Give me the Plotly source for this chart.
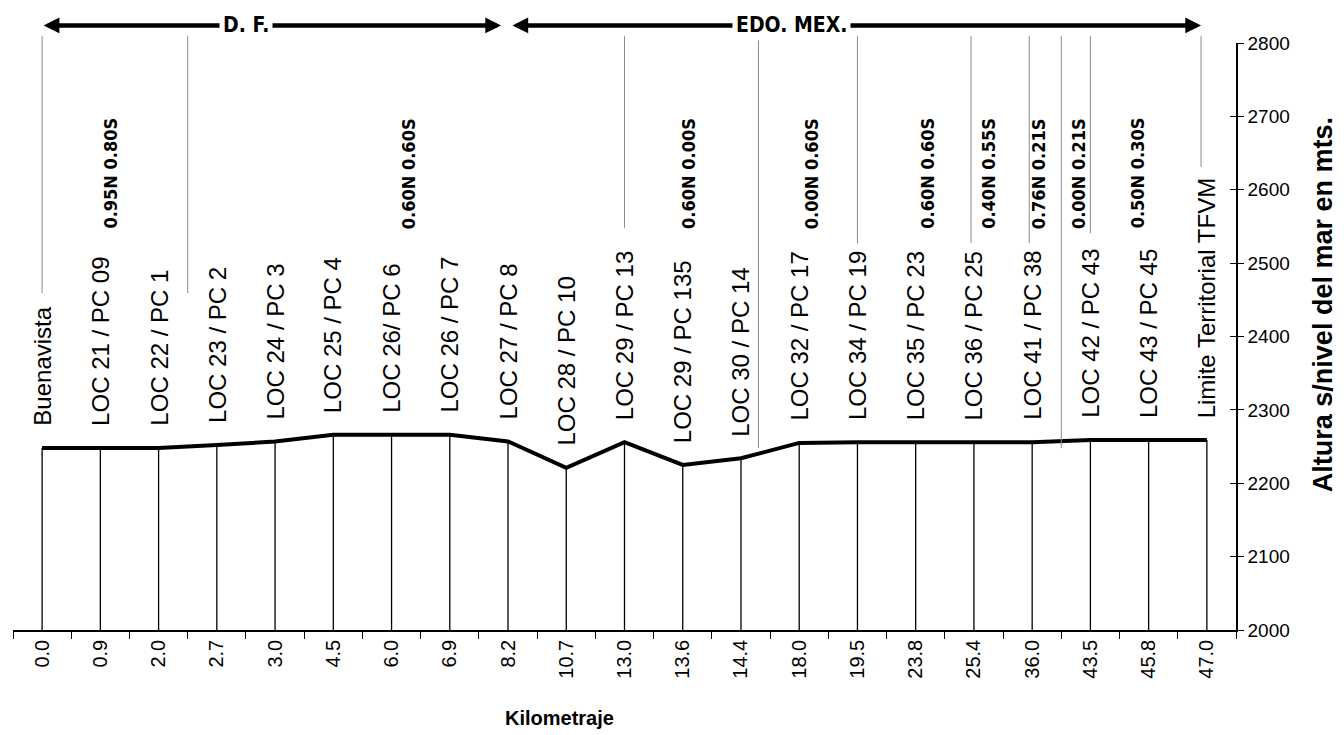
import plotly.graph_objects as go

# ---------------- data ----------------
km_labels = ["0.0", "0.9", "2.0", "2.7", "3.0", "4.5", "6.0", "6.9", "8.2", "10.7", "13.0",
             "13.6", "14.4", "18.0", "19.5", "23.8", "25.4", "36.0", "43.5", "45.8", "47.0"]
place_names = ["Buenavista", "LOC 21 / PC 09", "LOC 22 / PC 1", "LOC 23 / PC 2", "LOC 24 / PC 3",
               "LOC 25 / PC 4", "LOC 26/ PC 6", "LOC 26 / PC 7", "LOC 27 / PC 8", "LOC 28 / PC 10",
               "LOC 29 / PC 13", "LOC 29 / PC 135", "LOC 30 / PC 14", "LOC 32 / PC 17",
               "LOC 34 / PC 19", "LOC 35 / PC 23", "LOC 36 / PC 25", "LOC 41 / PC 38",
               "LOC 42 / PC 43", "LOC 43 / PC 45", "Limite Territorial TFVM"]
altitude = [2248, 2248, 2248, 2252, 2257, 2266, 2266, 2266, 2257, 2221, 2256,
            2225, 2234, 2255, 2256, 2256, 2256, 2256, 2259, 2259, 2259]
offset_labels = ["0.95N 0.80S", "0.60N 0.60S", "0.60N 0.00S", "0.00N 0.60S", "0.60N 0.60S",
                 "0.40N 0.55S", "0.76N 0.21S", "0.00N 0.21S", "0.50N 0.30S"]
offset_label_pos = [1.17, 6.28, 11.1, 13.2, 15.2, 16.25, 17.1, 17.8, 18.8]
y_base = 2000
y_ticks = list(range(2000, 2801, 100))

# leader lines (category position, bottom in paper coords)
leader_x = [0, 2.5, 10, 12.3, 14, 15.95, 16.95, 17.5, 18.0, 19.9]
leader_bottom = [0.574, 0.574, 0.685, 0.31, 0.659, 0.659, 0.659, 0.31, 0.676, 0.789]

FONT = "Liberation Sans, Arial, sans-serif"
NARROW = "Liberation Sans Narrow, Arial Narrow, DejaVu Sans Condensed, sans-serif"

fig = go.Figure()

fig.add_trace(go.Scatter(
    x=km_labels, y=altitude, mode="lines",
    line=dict(color="black", width=4),
    error_y=dict(type="data", symmetric=False, array=[0] * len(altitude),
                 arrayminus=[a - y_base for a in altitude],
                 color="black", thickness=1.3, width=0),
    hoverinfo="skip", showlegend=False,
))
fig.add_trace(go.Scatter(x=[km_labels[0]], y=[y_base], yaxis="y2", mode="markers",
                         marker=dict(opacity=0), showlegend=False, hoverinfo="skip"))

annotations = []
for i, (name, alt) in enumerate(zip(place_names, altitude)):
    annotations.append(dict(x=i, y=alt, xref="x", yref="y", text=name, textangle=-90,
                            showarrow=False, xanchor="center", yanchor="bottom", yshift=20,
                            font=dict(family=FONT, size=24, color="black")))
for txt, pos in zip(offset_labels, offset_label_pos):
    annotations.append(dict(x=pos, y=0.68, xref="x", yref="paper", text="<b>" + txt + "</b>",
                            textangle=-90, showarrow=False, xanchor="center", yanchor="bottom",
                            font=dict(family=NARROW, size=18, color="black")))

arrow_y = 1.03
for x0, x1 in [(0, 7.88), (8.05, 19.9)]:
    annotations.append(dict(x=x1, y=arrow_y, xref="x", yref="paper", ax=x0, ay=0,
                            axref="x", ayref="pixel", text="", showarrow=True,
                            arrowhead=2, arrowside="end+start", arrowsize=0.7,
                            arrowwidth=4.5, arrowcolor="black"))
for txt, pos in [("D. F.", 3.5), ("EDO. MEX.", 12.86)]:
    annotations.append(dict(x=pos, y=arrow_y, xref="x", yref="paper", text="<b>" + txt + "</b>",
                            showarrow=False, bgcolor="white", borderpad=3,
                            xanchor="center", yanchor="middle",
                            font=dict(family=NARROW, size=21, color="black")))
# axis titles
annotations.append(dict(x=0.447, y=-0.15, xref="paper", yref="paper", text="<b>Kilometraje</b>",
                        showarrow=False, xanchor="center", yanchor="middle",
                        font=dict(family=FONT, size=20, color="black")))
annotations.append(dict(x=1.0711, y=0.555, xref="paper", yref="paper",
                        text="<b>Altura s/nivel del mar en mts.</b>", textangle=-90,
                        showarrow=False, xanchor="center", yanchor="middle",
                        font=dict(family=FONT, size=27, color="black")))

shapes = []
for lx, lb in zip(leader_x, leader_bottom):
    shapes.append(dict(type="line", xref="x", yref="paper", x0=lx, x1=lx, y0=lb, y1=1.012,
                       line=dict(color="#8a8a8a", width=1)))

fig.update_layout(
    width=1344, height=735,
    margin=dict(l=13, r=108, t=43, b=105),
    paper_bgcolor="white", plot_bgcolor="white",
    annotations=annotations, shapes=shapes,
    xaxis=dict(type="category", tickangle=-90, tickson="boundaries", ticks="outside",
               ticklen=7, tickcolor="black", showline=True, linecolor="black", linewidth=1.5,
               showgrid=False, tickfont=dict(family=FONT, size=20, color="black"),
               range=[-0.5, 20.5]),
    yaxis=dict(side="right", range=[2000, 2800], tickvals=y_ticks, ticks="outside", ticklen=6,
               tickcolor="black", showline=True, linecolor="black", linewidth=1.5,
               showgrid=False, zeroline=False,
               tickfont=dict(family=FONT, size=19, color="black")),
    yaxis2=dict(overlaying="y", side="right", range=[2000, 2800], tickvals=y_ticks,
                ticks="inside", ticklen=6, tickcolor="black", showticklabels=False,
                showgrid=False, zeroline=False, showline=False),
)

fig.write_html("out.html", post_script="document.body.style.margin='0';",
               config={"displayModeBar": False})
